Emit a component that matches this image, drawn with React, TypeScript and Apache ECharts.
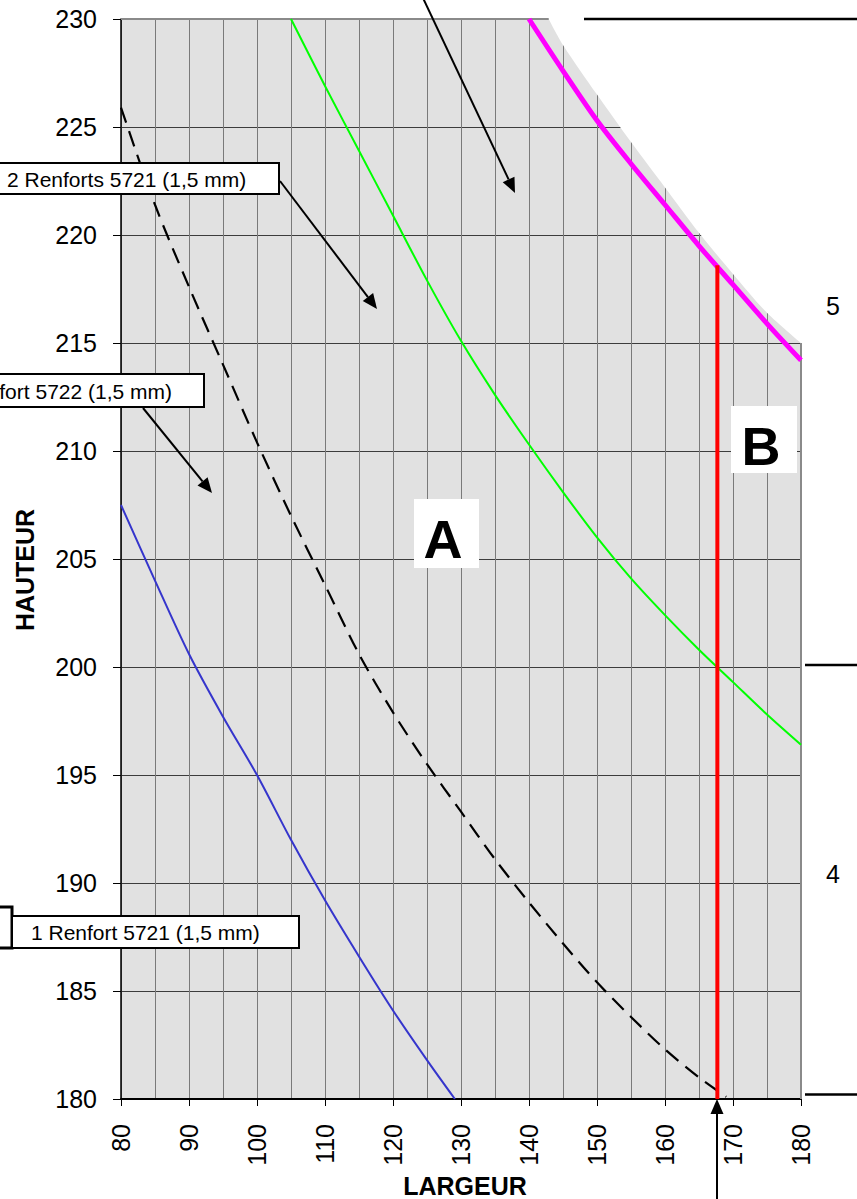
import React, { useEffect, useRef } from "react";
import * as echarts from "echarts";

// ---- data ----
const blueX = [80, 85, 90, 95, 100, 105, 110, 115, 120, 125, 129.1];
const blueY = [207.5, 204.0, 200.6, 197.7, 195.0, 192.0, 189.2, 186.6, 184.1, 181.8, 180.0];

const dashedX = [80, 85, 90, 95, 100, 105, 110, 115, 120, 125, 130, 135, 140, 145, 150, 155, 160, 165, 169];
const dashedY = [225.9, 221.4, 217.6, 214.0, 210.4, 207.0, 203.8, 200.6, 197.9, 195.5, 193.3, 191.1, 189.1, 187.2, 185.4, 183.8, 182.3, 181.0, 180.1];

const greenX = [105, 110, 115, 120, 125, 130, 135, 140, 145, 150, 155, 160, 165, 170, 175, 180];
const greenY = [230, 226.9, 223.9, 220.9, 217.9, 215.1, 212.6, 210.3, 208.1, 206.0, 204.1, 202.4, 200.8, 199.3, 197.8, 196.4];

const magentaX = [140, 145, 150, 155, 160, 165, 170, 175, 180];
const magentaY = [230, 227.6, 225.3, 223.3, 221.4, 219.5, 217.7, 215.9, 214.2];

// upper limit of the grey zone (white above it)
const limitX = [142.9, 145, 150, 155, 160, 165, 170, 175, 180];
const limitY = [230, 228.8, 226.5, 224.3, 222.2, 220.1, 218.2, 216.4, 215];

const redX = [167.7, 167.7];
const redY = [180, 218.6];

const xMin = 80, xMax = 180, xStep = 10;
const yMin = 180, yMax = 230, yStep = 5;

const labels2R = "2 Renforts 5721 (1,5 mm)";
const label1R5722 = "1 Renfort 5722 (1,5 mm)";
const label1R5721 = "1 Renfort 5721 (1,5 mm)";

const FONT = "Liberation Sans, Arial, Helvetica, sans-serif";

const zip = (xs: number[], ys: number[]) => xs.map((x, i) => [x, ys[i]]);

function arrow(x1: number, y1: number, x2: number, y2: number, len = 15, half = 6.5) {
  const a = Math.atan2(y2 - y1, x2 - x1);
  const bx = x2 - len * Math.cos(a);
  const by = y2 - len * Math.sin(a);
  const px = -Math.sin(a) * half;
  const py = Math.cos(a) * half;
  return [
    { type: "line", z: 20, shape: { x1, y1, x2: bx, y2: by }, style: { stroke: "#000", lineWidth: 2 } },
    {
      type: "polygon",
      z: 20,
      shape: { points: [[x2, y2], [bx + px, by + py], [bx - px, by - py]] },
      style: { fill: "#000" },
    },
  ];
}

function box(x: number, y: number, w: number, h: number, lw = 2) {
  return { type: "rect", z: 15, shape: { x, y, width: w, height: h }, style: { fill: "#fff", stroke: "#000", lineWidth: lw } };
}

function txt(text: string, x: number, y: number, size: number, align: string, bold = false) {
  return {
    type: "text",
    z: 21,
    style: {
      text,
      x,
      y,
      fill: "#000",
      fontSize: size,
      fontFamily: FONT,
      fontWeight: bold ? "bold" : "normal",
      align,
      verticalAlign: "middle",
    },
  };
}

export default function App() {
  const ref = useRef<HTMLDivElement>(null);
  useEffect(() => {
    if (!ref.current) return;
    const chart = echarts.init(ref.current, null, { renderer: "svg" });
    const lastLimit = limitY[limitY.length - 1];
    const option: any = {
      animation: false,
      backgroundColor: "#fff",
      grid: {
        left: 121,
        top: 19,
        width: 680,
        height: 1080,
        show: true,
        backgroundColor: "#e1e1e1",
        borderWidth: 0,
        containLabel: false,
        outerBoundsMode: "none",
      },
      xAxis: {
        type: "value",
        min: xMin,
        max: xMax,
        interval: xStep,
        name: "LARGEUR",
        nameLocation: "middle",
        nameGap: 73,
        nameTextStyle: { fontSize: 25, fontWeight: "bold", color: "#000", fontFamily: FONT, padding: [0, 0, 0, 8] },
        axisLine: { show: true, onZero: false, lineStyle: { color: "#000", width: 2 } },
        axisTick: { show: true, length: 7, lineStyle: { color: "#000", width: 1 } },
        axisLabel: { rotate: 90, margin: 25, fontSize: 25, color: "#000", fontFamily: FONT },
        splitLine: { show: true, showMaxLine: false, lineStyle: { color: "#7a7a7a", width: 1 } },
        minorTick: { show: false, splitNumber: 2 },
        minorSplitLine: { show: true, lineStyle: { color: "#7a7a7a", width: 1 } },
      },
      yAxis: {
        type: "value",
        min: yMin,
        max: yMax,
        interval: yStep,
        name: "HAUTEUR",
        nameLocation: "middle",
        nameGap: 84,
        nameTextStyle: { fontSize: 25, fontWeight: "bold", color: "#000", fontFamily: FONT, padding: [0, 22, 0, 0] },
        axisLine: { show: true, onZero: false, lineStyle: { color: "#000", width: 1.5 } },
        axisTick: { show: true, length: 8, lineStyle: { color: "#000", width: 1 } },
        axisLabel: { margin: 24, fontSize: 25, color: "#000", fontFamily: FONT },
        splitLine: { show: true, showMaxLine: false, lineStyle: { color: "#3c3c3c", width: 1 } },
      },
      series: [
        {
          name: "limite",
          type: "line",
          data: zip(limitX, limitY),
          symbol: "none",
          smooth: 0.3,
          silent: true,
          z: 2,
          lineStyle: { width: 0, opacity: 0 },
          areaStyle: { color: "#ffffff", opacity: 1, origin: "end" },
        },
        {
          name: "cadre haut",
          type: "line",
          data: [[xMin, yMax], [limitX[0], yMax]],
          symbol: "none",
          silent: true,
          z: 2,
          lineStyle: { color: "#8a8a8a", width: 2 },
        },
        {
          name: "cadre droit",
          type: "line",
          data: [[xMax, lastLimit], [xMax, yMin]],
          symbol: "none",
          silent: true,
          z: 2,
          lineStyle: { color: "#8a8a8a", width: 2 },
        },
        {
          name: "1 Renfort 5721",
          type: "line",
          data: zip(blueX, blueY),
          symbol: "none",
          smooth: 0.3,
          z: 3,
          lineStyle: { color: "#3535cc", width: 2 },
        },
        {
          name: "1 Renfort 5722",
          type: "line",
          data: zip(dashedX, dashedY),
          symbol: "none",
          smooth: 0.3,
          z: 3,
          lineStyle: { color: "#000", width: 2.2, type: [16, 9] },
        },
        {
          name: "2 Renforts 5721",
          type: "line",
          data: zip(greenX, greenY),
          symbol: "none",
          smooth: 0.3,
          z: 3,
          lineStyle: { color: "#00ff00", width: 2 },
        },
        {
          name: "limite B",
          type: "line",
          data: zip(magentaX, magentaY),
          symbol: "none",
          smooth: 0.3,
          z: 4,
          lineStyle: { color: "#ff00ff", width: 5 },
        },
        {
          name: "largeur",
          type: "line",
          data: zip(redX, redY),
          symbol: "none",
          z: 5,
          lineStyle: { color: "#ff0000", width: 4, cap: "butt" },
        },
      ],
      graphic: [
        // right side markers
        { type: "line", z: 20, shape: { x1: 584, y1: 19, x2: 857, y2: 19 }, style: { stroke: "#000", lineWidth: 2.5 } },
        { type: "line", z: 20, shape: { x1: 805, y1: 665, x2: 857, y2: 665 }, style: { stroke: "#000", lineWidth: 2.5 } },
        { type: "line", z: 20, shape: { x1: 805, y1: 1094.5, x2: 857, y2: 1094.5 }, style: { stroke: "#000", lineWidth: 2.5 } },
        txt("5", 833, 306, 25, "center"),
        txt("4", 833, 874, 25, "center"),
        // zone labels
        { type: "rect", z: 15, shape: { x: 414, y: 499, width: 65, height: 69 }, style: { fill: "#fff" } },
        txt("A", 443, 538.5, 54, "center", true),
        { type: "rect", z: 15, shape: { x: 731, y: 406, width: 66, height: 67 }, style: { fill: "#fff" } },
        txt("B", 761, 446, 54, "center", true),
        // callout boxes
        box(-20, 163, 299, 31),
        txt(labels2R, 7, 179, 21, "left"),
        box(-100, 374, 304, 33),
        txt(label1R5722, 172, 391, 21, "right"),
        box(-50, 907, 62, 41, 3),
        box(12, 916, 287, 32),
        txt(label1R5721, 31, 932, 21, "left"),
        // arrows
        ...arrow(280, 181, 377, 309),
        ...arrow(143, 408, 212, 493),
        ...arrow(423, -2, 515, 193),
        ...arrow(717, 1199, 717, 1099),
      ],
    };
    chart.setOption(option);
    return () => chart.dispose();
  }, []);
  return <div ref={ref} style={{ position: "absolute", left: 0, top: 0, width: 857, height: 1199 }} />;
}
